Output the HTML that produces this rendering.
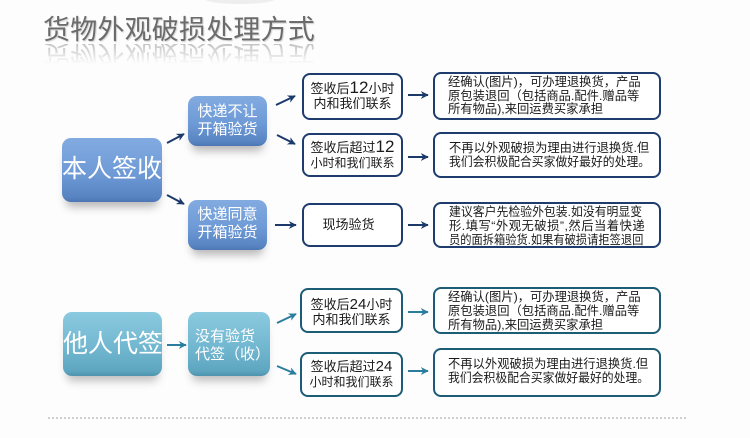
<!DOCTYPE html>
<html><head><meta charset="utf-8">
<style>
*{margin:0;padding:0;box-sizing:border-box}
html,body{width:750px;height:438px;overflow:hidden;background:#fdfdfd}
body{position:relative;font-family:"Liberation Sans","Noto Sans CJK SC",sans-serif}
.abs{position:absolute}
.title{left:43px;top:17px;font-size:27px;line-height:27px;color:#6b6b6b;white-space:nowrap;letter-spacing:0.2px;text-shadow:1px 1px 1px rgba(0,0,0,0.18)}
.refl{left:43px;top:44px;height:22px;overflow:hidden;-webkit-mask-image:linear-gradient(to bottom,rgba(0,0,0,0.5),rgba(0,0,0,0) 90%);mask-image:linear-gradient(to bottom,rgba(0,0,0,0.5),rgba(0,0,0,0) 90%)}
.refl div{font-size:27px;line-height:27px;color:#8a8a8a;white-space:nowrap;letter-spacing:0.2px;transform:scaleY(-1);transform-origin:50% 13.5px;margin-top:-4px}
.blue{background:linear-gradient(to bottom,#82abe0 0%,#6e9ad6 55%,#5884c2 92%,#4d76b2 100%);border-radius:9px;color:#fff;text-align:center;box-shadow:0 9px 9px -4px rgba(0,0,0,0.28)}
.teal{background:linear-gradient(to bottom,#8bcadf 0%,#72b7d0 55%,#5ea6c0 92%,#4f93ad 100%);border-radius:9px;color:#fff;text-align:center;box-shadow:0 9px 9px -4px rgba(0,0,0,0.25)}
.big{font-size:25px;white-space:nowrap}
.mid{font-size:15px;line-height:18px;white-space:nowrap}
.sb{background:#fff;border:2px solid #1f3c6e;border-radius:8px}
.sbt{border-color:#1c5c74}
.st{font-size:13px;line-height:15px;color:#1a1a1a;text-align:center;white-space:nowrap}
.st b{font-weight:normal;font-size:17px}
.dt{font-size:12.3px;line-height:13.5px;color:#1a1a1a;white-space:nowrap}
.dt div{height:13.5px}
.dt span{display:inline-block;transform-origin:0 50%}
.dots{left:48px;top:417px;width:640px;height:2px;background:repeating-linear-gradient(90deg,#c0c0c0 0 2px,transparent 2px 4px);opacity:0.75}
</style></head><body>

<div class="abs" style="left:205px;top:-6px;width:70px;height:10px;border-radius:50%;background:#eeeeee"></div>

<div class="abs title">货物外观破损处理方式</div>
<div class="abs refl"><div>货物外观破损处理方式</div></div>

<!-- upper section -->
<div class="abs blue" style="left:62px;top:138px;width:100px;height:64px"></div>
<div class="abs big" style="left:62px;top:152px;width:100px;text-align:center;color:#fff;line-height:34px">本人签收</div>

<div class="abs blue" style="left:188px;top:96px;width:79px;height:50px"></div>
<div class="abs mid" style="left:188px;top:103px;width:79px;text-align:center;color:#fff">快递不让<br>开箱验货</div>

<div class="abs blue" style="left:188px;top:200px;width:79px;height:50px"></div>
<div class="abs mid" style="left:188px;top:206px;width:79px;text-align:center;color:#fff">快递同意<br>开箱验货</div>

<div class="abs sb" style="left:302px;top:73px;width:101px;height:47px"></div>
<div class="abs st" style="left:302px;top:80px;width:101px">签收后<b>12</b>小时<br>内和我们联系</div>

<div class="abs sb" style="left:302px;top:133px;width:101px;height:44px"></div>
<div class="abs st" style="left:302px;top:139px;width:101px">签收后超过<b>12</b><br><span style="font-size:12px">小时和我们联系</span></div>

<div class="abs sb" style="left:302px;top:203px;width:101px;height:44px"></div>
<div class="abs st" style="left:298px;top:217px;width:101px">现场验货</div>

<div class="abs sb" style="left:433px;top:72px;width:228px;height:48px"></div>
<div class="abs dt" style="left:448px;top:76px"><div>经确认(图片)，可办理退换货，产品</div><div>原包装退回（包括商品.配件.赠品等</div><div>所有物品),来回运费买家承担</div></div>

<div class="abs sb" style="left:433px;top:132px;width:228px;height:46px"></div>
<div class="abs dt" style="left:449px;top:142px"><div>不再以外观破损为理由进行退换货.但</div><div><span style="transform:scaleX(0.962)">我们会积极配合买家做好最好的处理。</span></div></div>

<div class="abs sb" style="left:433px;top:202px;width:228px;height:46px"></div>
<div class="abs dt" style="left:449px;top:205px;line-height:14px"><div style="height:14px"><span style="transform:scaleX(0.965)">建议客户先检验外包装.如没有明显变</span></div><div style="height:14px"><span style="letter-spacing:0.5px">形.填写“外观无破损”,然后当着快递</span></div><div style="height:14px"><span style="transform:scaleX(0.915)">员的面拆箱验货.如果有破损请拒签退回</span></div></div>

<!-- lower section -->
<div class="abs teal" style="left:63px;top:312px;width:99px;height:64px"></div>
<div class="abs big" style="left:63px;top:327px;width:99px;text-align:center;color:#fff;line-height:34px">他人代签</div>

<div class="abs teal" style="left:188px;top:312px;width:82px;height:64px"></div>
<div class="abs mid" style="left:195px;top:328px;color:#fff;text-align:left">没有验货<br>代签（收）</div>

<div class="abs sb sbt" style="left:300px;top:288px;width:103px;height:45px"></div>
<div class="abs st" style="left:300px;top:297px;width:103px">签收后<b style="font-size:15px">24</b>小时<br>内和我们联系</div>

<div class="abs sb sbt" style="left:300px;top:352px;width:103px;height:45px"></div>
<div class="abs st" style="left:300px;top:359px;width:103px">签收后超过<b style="font-size:15px">24</b><br><span style="font-size:12px">小时和我们联系</span></div>

<div class="abs sb sbt" style="left:433px;top:287px;width:228px;height:47px"></div>
<div class="abs dt" style="left:448px;top:290px;line-height:14px"><div style="height:14px">经确认(图片)，可办理退换货，产品</div><div style="height:14px">原包装退回（包括商品.配件.赠品等</div><div style="height:14px">所有物品),来回运费买家承担</div></div>

<div class="abs sb sbt" style="left:433px;top:348px;width:228px;height:49px"></div>
<div class="abs dt" style="left:448px;top:358px"><div>不再以外观破损为理由进行退换货.但</div><div><span style="transform:scaleX(0.962)">我们会积极配合买家做好最好的处理。</span></div></div>

<div class="abs dots"></div>

<svg class="abs" style="left:0;top:0" width="750" height="438" viewBox="0 0 750 438">
<defs>
<marker id="hn" viewBox="0 0 10 10" refX="9" refY="5" markerWidth="8" markerHeight="8" markerUnits="userSpaceOnUse" orient="auto"><path d="M0,0 L10,5 L0,10 L3,5 z" fill="#1b3a6b"/></marker>
<marker id="ht" viewBox="0 0 10 10" refX="9" refY="5" markerWidth="8" markerHeight="8" markerUnits="userSpaceOnUse" orient="auto"><path d="M0,0 L10,5 L0,10 L3,5 z" fill="#2a7d9e"/></marker>
</defs>
<g stroke="#1b3a6b" stroke-width="2" fill="none" marker-end="url(#hn)">
<line x1="167" y1="143" x2="184" y2="134"/>
<line x1="167" y1="195" x2="184" y2="204"/>
<line x1="276" y1="105" x2="295" y2="96"/>
<line x1="277" y1="135" x2="295" y2="144"/>
<line x1="275" y1="225" x2="296" y2="225"/>
<line x1="408" y1="95" x2="428" y2="95"/>
<line x1="408" y1="157" x2="428" y2="157"/>
<line x1="408" y1="225" x2="428" y2="225"/>
</g>
<g stroke="#2a7d9e" stroke-width="2" fill="none" marker-end="url(#ht)">
<line x1="167" y1="345" x2="186" y2="345"/>
<line x1="277" y1="323" x2="296" y2="314"/>
<line x1="277" y1="366" x2="296" y2="374"/>
<line x1="408" y1="312" x2="428" y2="312"/>
<line x1="408" y1="371" x2="428" y2="371"/>
</g>
</svg>
</body></html>
